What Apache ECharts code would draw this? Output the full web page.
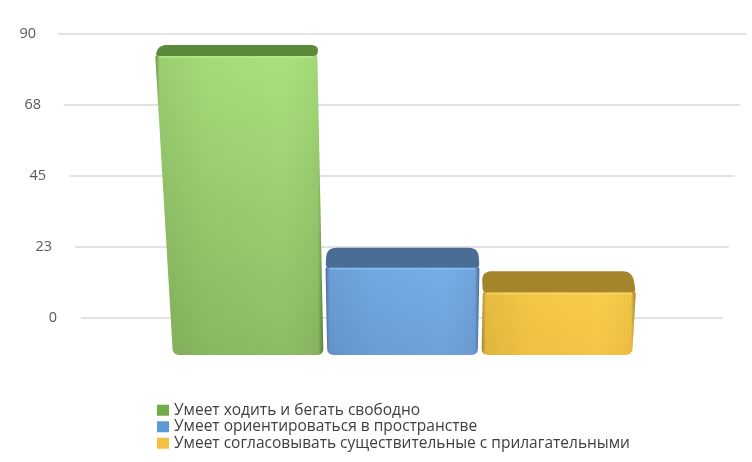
<!DOCTYPE html>
<html>
<head>
<meta charset="utf-8">
<script src="https://cdn.jsdelivr.net/npm/echarts@6/dist/echarts.min.js"></script>
<style>html,body{margin:0;padding:0;background:#fff}#c{width:752px;height:462px}</style>
</head>
<body>
<div id="c"></div>
<script>
// ---- data ----
const categories = [
  'Умеет ходить и бегать свободно',
  'Умеет ориентироваться в пространстве',
  'Умеет согласовывать существительные с прилагательными'
];
const values = [85, 25, 18];
const yTicks = [0, 22.5, 45, 67.5, 90];

// ---- styles ----
const palette = [
  { legend: '#70ad47', top: '#5c8a3b', front: ['#a8e07a', '#8bba61'], hi: '#b8ea8a' },
  { legend: '#5b9bd5', top: '#4a6d95', front: ['#75abe6', '#6c9fd9'], hi: '#8cbff2' },
  { legend: '#f5c040', top: '#a5852b', front: ['#f8cb47', '#f3c443'], hi: '#fbd764' }
];
const FONT = 'Open Sans';
const DEPTH = 3938; // distance to vertical vanishing point (perspective)

function toward(p, q, r) {
  const dx = q[0] - p[0], dy = q[1] - p[1];
  const d = Math.hypot(dx, dy) || 1;
  const t = Math.min(r, d / 2) / d;
  return [p[0] + dx * t, p[1] + dy * t];
}
function roundedPoints(pts, radii) {
  const out = [];
  const n = pts.length;
  for (let j = 0; j < n; j++) {
    const p = pts[j], prev = pts[(j - 1 + n) % n], next = pts[(j + 1) % n];
    const a = toward(p, prev, radii[j]), b = toward(p, next, radii[j]);
    for (let s = 0; s <= 6; s++) {
      const t = s / 6, u = 1 - t;
      out.push([u * u * a[0] + 2 * u * t * p[0] + t * t * b[0],
                u * u * a[1] + 2 * u * t * p[1] + t * t * b[1]]);
    }
  }
  return out;
}

function renderWall(params, api) {
  const v = api.value(1);
  const cs = params.coordSys;
  const y = api.coord([0, v])[1];
  const yb = cs.y + cs.height;
  const xv = cs.x + cs.width / 2;
  const yv = yb + DEPTH;
  const half = cs.width / 2 * (yv - y) / (yv - yb);
  return {
    type: 'line',
    shape: { x1: xv - half, y1: y, x2: xv + half, y2: y },
    style: { stroke: '#d9d9d9', lineWidth: 1.6 }
  };
}

function makeBarRenderer(idx) {
  const c = palette[idx];
  return function (params, api) {
    const i = api.value(0), v = api.value(1);
    const cs = params.coordSys;
    const base = api.coord([i, 0]);
    const tp = api.coord([i, v]);
    const w = api.size([1, 0])[0] * 0.975;
    const yb = base[1], yt = tp[1];
    const xv = cs.x + cs.width / 2;
    const yv = yb + DEPTH - 40;
    const k = (yv - yt) / (yv - yb);
    const xl0 = base[0] - w / 2, xr0 = base[0] + w / 2;
    const xlT = xv + (xl0 - xv) * k, xrT = xv + (xr0 - xv) * k;
    const dy = 0.043 * (yt + 178);
    const yBack = yt - dy;
    const s = 0.985;
    const xlB = xv + (xlT - xv) * s, xrB = xv + (xrT - xv) * s;

    const front = roundedPoints([[xlT, yt], [xrT, yt], [xr0, yb], [xl0, yb]], [3, 3, 7, 7]);
    const top = roundedPoints([[xlT, yt + 1], [xrT, yt + 1], [xrB, yBack], [xlB, yBack]], [4, 4, 10, 10]);
    return {
      type: 'group',
      children: [
        {
          type: 'polygon', shape: { points: front },
          style: { fill: new echarts.graphic.LinearGradient(0, 0, 0, 1, [
            { offset: 0, color: c.front[0] }, { offset: 1, color: c.front[1] }]) }
        },
        {
          type: 'polygon', shape: { points: front },
          style: { fill: new echarts.graphic.LinearGradient(0, 0, 1, 0, [
            { offset: 0, color: 'rgba(0,0,0,0.35)' },
            { offset: 0.025, color: 'rgba(0,0,0,0.08)' },
            { offset: 0.3, color: 'rgba(0,0,0,0.02)' },
            { offset: 0.75, color: 'rgba(255,255,255,0.02)' },
            { offset: 0.97, color: 'rgba(0,0,0,0.04)' },
            { offset: 1, color: 'rgba(0,0,0,0.35)' }]) }
        },
        {
          type: 'polygon', shape: { points: top },
          style: { fill: c.top }
        },
        {
          type: 'line',
          shape: { x1: xlT + 4, y1: yt + 2, x2: xrT - 4, y2: yt + 2 },
          style: { stroke: c.hi, lineWidth: 2, opacity: 0.7 }
        }
      ]
    };
  };
}

const barSeries = categories.map((name, idx) => ({
  name: name,
  type: 'custom',
  xAxisIndex: 1,
  yAxisIndex: 1,
  itemStyle: { color: palette[idx].legend },
  renderItem: makeBarRenderer(idx),
  data: [[idx, values[idx]]],
  z: 3
}));

const chart = echarts.init(document.getElementById('c'), null, { renderer: 'canvas' });
chart.setOption({
  animation: false,
  backgroundColor: '#ffffff',
  grid: [
    { left: 81, right: 29, top: 34, bottom: 144 },
    { left: 171, right: 118, top: 37.3, bottom: 107 }
  ],
  xAxis: [
    { gridIndex: 0, type: 'value', min: 0, max: 1, show: false },
    { gridIndex: 1, type: 'category', data: categories, show: false }
  ],
  yAxis: [
    {
      gridIndex: 0, type: 'value', min: 0, max: 90, interval: 22.5,
      axisLine: { show: false }, axisTick: { show: false }, splitLine: { show: false },
      axisLabel: {
        margin: 24,
        color: '#595959',
        fontSize: 14.5,
        fontFamily: FONT,
        formatter: function (val) {
          const pad = Math.round(val / 90 * 21);
          return '{p' + pad + '|' + Math.round(val) + '}';
        },
        rich: (function () {
          const r = {};
          yTicks.forEach(t => {
            const pad = Math.round(t / 90 * 21);
            r['p' + pad] = { padding: [0, pad, 0, 0], color: '#595959', fontSize: 14.5, fontFamily: FONT };
          });
          return r;
        })()
      }
    },
    { gridIndex: 1, type: 'value', min: 0, max: 90, show: false }
  ],
  legend: {
    data: categories,
    orient: 'vertical',
    left: 152,
    top: 397,
    icon: 'rect',
    itemWidth: 12,
    itemHeight: 11,
    itemGap: 0,
    textStyle: { fontSize: 15.5, color: '#404040', fontFamily: FONT, lineHeight: 16.5 }
  },
  series: [
    {
      name: 'grid',
      type: 'custom',
      xAxisIndex: 0,
      yAxisIndex: 0,
      silent: true,
      renderItem: renderWall,
      data: yTicks.map(t => [0, t]),
      z: 1
    }
  ].concat(barSeries)
});
</script>
</body>
</html>
